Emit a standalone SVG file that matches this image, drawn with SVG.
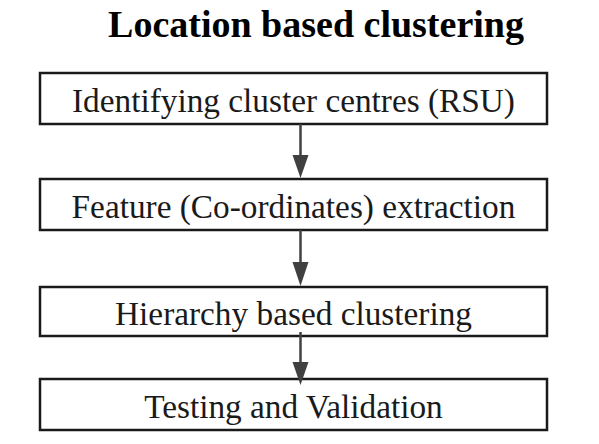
<svg xmlns="http://www.w3.org/2000/svg" width="599" height="444" viewBox="0 0 599 444">
<style>
.box{fill:#fff;stroke:#1a1a1a;stroke-width:2.5}
.lbl{font-family:"Liberation Serif",serif;font-size:33.3px;fill:#1a1a1a;text-anchor:middle}
.title{font-family:"Liberation Serif",serif;font-size:38px;font-weight:bold;fill:#000;text-anchor:middle}
.conn line{stroke:#404040;stroke-width:2.5}
.conn path{fill:#404040}
</style>
<rect width="599" height="444" fill="#fff"/>
<text class="title" x="316" y="37">Location based clustering</text>
<g id="n1"><rect class="box" x="40" y="73" width="507" height="51"/><text class="lbl" x="293.5" y="112">Identifying cluster centres (RSU)</text></g>
<g id="n2"><rect class="box" x="40" y="179" width="507" height="51"/><text class="lbl" x="293.5" y="218">Feature (Co-ordinates) extraction</text></g>
<g id="n3"><rect class="box" x="40" y="287" width="507" height="49"/><text class="lbl" x="293.5" y="325">Hierarchy based clustering</text></g>
<g id="n4"><rect class="box" x="40" y="379" width="507" height="51"/><text class="lbl" x="293.5" y="418">Testing and Validation</text></g>
<g id="connectors" class="conn">
<line x1="300.5" y1="124" x2="300.5" y2="156"/><path d="M292.5,155 L308.5,155 L300.5,178 Z"/>
<line x1="300.5" y1="230" x2="300.5" y2="263"/><path d="M292.5,262 L308.5,262 L300.5,286 Z"/>
<line x1="300.5" y1="332" x2="300.5" y2="363"/><path d="M292.5,362 L308.5,362 L300.5,385 Z"/>
</g>
</svg>
